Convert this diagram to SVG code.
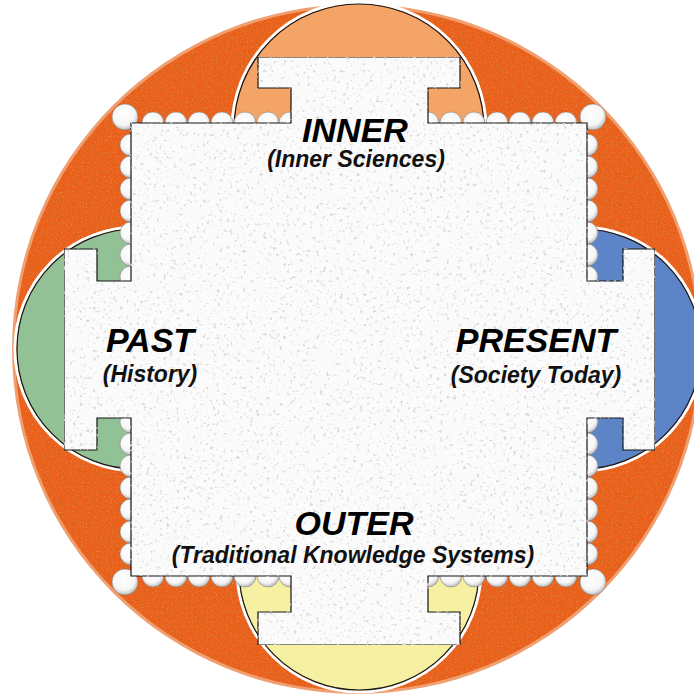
<svg xmlns="http://www.w3.org/2000/svg" width="694" height="694" viewBox="0 0 694 694">
<defs>
<style>
.title{font-family:"Liberation Sans",Arial,sans-serif;font-weight:bold;font-style:italic;font-size:34px;fill:#000;text-anchor:middle}
.sub{font-family:"Liberation Sans",Arial,sans-serif;font-weight:bold;font-style:italic;font-size:23px;fill:#111;text-anchor:middle}
.lobe-hi{fill:none;stroke:#ffffff;stroke-width:3}
.lobe-edge{stroke:#1a1a1a;stroke-width:1.2}
.bump{fill:url(#bumpg);stroke:#777;stroke-width:0.5}
</style>
<radialGradient id="bumpg" cx="0.45" cy="0.4" r="0.6">
<stop offset="0" stop-color="#ffffff"/>
<stop offset="0.7" stop-color="#f6f6f6"/>
<stop offset="1" stop-color="#bdbdbd"/>
</radialGradient>
<filter id="tex" x="0" y="0" width="1" height="1">
<feTurbulence type="fractalNoise" baseFrequency="0.3" numOctaves="2" seed="7" result="n"/>
<feColorMatrix in="n" type="matrix" values="0 0 0 0 0.7  0 0 0 0 0.7  0 0 0 0 0.7  7 0 0 0 -4.3" result="s"/>
<feComposite in="s" in2="SourceAlpha" operator="in" result="sc"/>
<feMerge><feMergeNode in="SourceGraphic"/><feMergeNode in="sc"/></feMerge>
</filter>
<filter id="otex" x="0" y="0" width="1" height="1">
<feTurbulence type="fractalNoise" baseFrequency="0.8" numOctaves="1" seed="3" result="n"/>
<feColorMatrix in="n" type="matrix" values="0 0 0 0 0.75  0 0 0 0 0.25  0 0 0 0 0.05  4 0 0 0 -2.2" result="s"/>
<feComposite in="s" in2="SourceAlpha" operator="in" result="sc"/>
<feMerge><feMergeNode in="SourceGraphic"/><feMergeNode in="sc"/></feMerge>
</filter>
</defs>

<g id="background">
<circle cx="357" cy="349" r="345" fill="#f0a070"/>
<circle cx="357" cy="349" r="342" fill="#e8601e" filter="url(#otex)"/>
</g>

<g id="lobes">
<g id="lobe-inner">
<circle cx="359" cy="129" r="127" class="lobe-hi"/>
<circle cx="359" cy="129" r="125" fill="#f4a466" class="lobe-edge"/>
</g>
<g id="lobe-past">
<circle cx="137" cy="349" r="122" class="lobe-hi"/>
<circle cx="137" cy="349" r="120" fill="#92c196" class="lobe-edge"/>
</g>
<g id="lobe-present">
<circle cx="581" cy="349" r="122" class="lobe-hi"/>
<circle cx="581" cy="349" r="120" fill="#5e84c8" class="lobe-edge"/>
</g>
<g id="lobe-outer">
<circle cx="359" cy="570" r="122" class="lobe-hi"/>
<circle cx="359" cy="570" r="120" fill="#f6f0a2" class="lobe-edge"/>
</g>
</g>

<g id="scallops">
<circle class="bump" cx="125" cy="117" r="13"/>
<circle class="bump" cx="593" cy="117" r="13"/>
<circle class="bump" cx="125" cy="582" r="13"/>
<circle class="bump" cx="593" cy="582" r="13"/>
<circle class="bump" cx="153" cy="123" r="11"/><circle class="bump" cx="176" cy="123" r="11"/><circle class="bump" cx="199" cy="123" r="11"/><circle class="bump" cx="222" cy="123" r="11"/><circle class="bump" cx="245" cy="123" r="11"/><circle class="bump" cx="268" cy="123" r="11"/><circle class="bump" cx="290" cy="123" r="11"/>
<circle class="bump" cx="428" cy="123" r="11"/><circle class="bump" cx="451" cy="123" r="11"/><circle class="bump" cx="474" cy="123" r="11"/><circle class="bump" cx="497" cy="123" r="11"/><circle class="bump" cx="520" cy="123" r="11"/><circle class="bump" cx="543" cy="123" r="11"/><circle class="bump" cx="566" cy="123" r="11"/>
<circle class="bump" cx="153" cy="576" r="11"/><circle class="bump" cx="176" cy="576" r="11"/><circle class="bump" cx="199" cy="576" r="11"/><circle class="bump" cx="222" cy="576" r="11"/><circle class="bump" cx="245" cy="576" r="11"/><circle class="bump" cx="268" cy="576" r="11"/><circle class="bump" cx="290" cy="576" r="11"/>
<circle class="bump" cx="428" cy="576" r="11"/><circle class="bump" cx="451" cy="576" r="11"/><circle class="bump" cx="474" cy="576" r="11"/><circle class="bump" cx="497" cy="576" r="11"/><circle class="bump" cx="520" cy="576" r="11"/><circle class="bump" cx="543" cy="576" r="11"/><circle class="bump" cx="566" cy="576" r="11"/>
<circle class="bump" cx="131" cy="145" r="11"/><circle class="bump" cx="131" cy="167" r="11"/><circle class="bump" cx="131" cy="189" r="11"/><circle class="bump" cx="131" cy="211" r="11"/><circle class="bump" cx="131" cy="233" r="11"/><circle class="bump" cx="131" cy="255" r="11"/><circle class="bump" cx="131" cy="277" r="11"/>
<circle class="bump" cx="131" cy="422" r="11"/><circle class="bump" cx="131" cy="444" r="11"/><circle class="bump" cx="131" cy="466" r="11"/><circle class="bump" cx="131" cy="488" r="11"/><circle class="bump" cx="131" cy="510" r="11"/><circle class="bump" cx="131" cy="532" r="11"/><circle class="bump" cx="131" cy="554" r="11"/>
<circle class="bump" cx="587" cy="145" r="11"/><circle class="bump" cx="587" cy="167" r="11"/><circle class="bump" cx="587" cy="189" r="11"/><circle class="bump" cx="587" cy="211" r="11"/><circle class="bump" cx="587" cy="233" r="11"/><circle class="bump" cx="587" cy="255" r="11"/><circle class="bump" cx="587" cy="277" r="11"/>
<circle class="bump" cx="587" cy="422" r="11"/><circle class="bump" cx="587" cy="444" r="11"/><circle class="bump" cx="587" cy="466" r="11"/><circle class="bump" cx="587" cy="488" r="11"/><circle class="bump" cx="587" cy="510" r="11"/><circle class="bump" cx="587" cy="532" r="11"/><circle class="bump" cx="587" cy="554" r="11"/>
</g>

<g id="cross">
<path d="M131,123 H291 V88 H258 V57 H460 V88 H428 V123 H587 V281 H623 V249 H655 V450 H623 V418 H587 V576 H428 V612 H460 V645 H258 V612 H291 V576 H131 V418 H97 V450 H64 V249 H97 V281 H131 Z" fill="#fbfbfb" stroke="#111" stroke-width="1.2" filter="url(#tex)"/>
</g>

<g id="node-inner">
<text class="title" x="355" y="142">INNER</text>
<text class="sub" x="356" y="167">(Inner Sciences)</text>
</g>
<g id="node-past">
<text class="title" x="150" y="352">PAST</text>
<text class="sub" x="150" y="382">(History)</text>
</g>
<g id="node-present">
<text class="title" x="536" y="352">PRESENT</text>
<text class="sub" x="536" y="383">(Society Today)</text>
</g>
<g id="node-outer">
<text class="title" x="354" y="535">OUTER</text>
<text class="sub" x="353" y="563">(Traditional Knowledge Systems)</text>
</g>
</svg>
